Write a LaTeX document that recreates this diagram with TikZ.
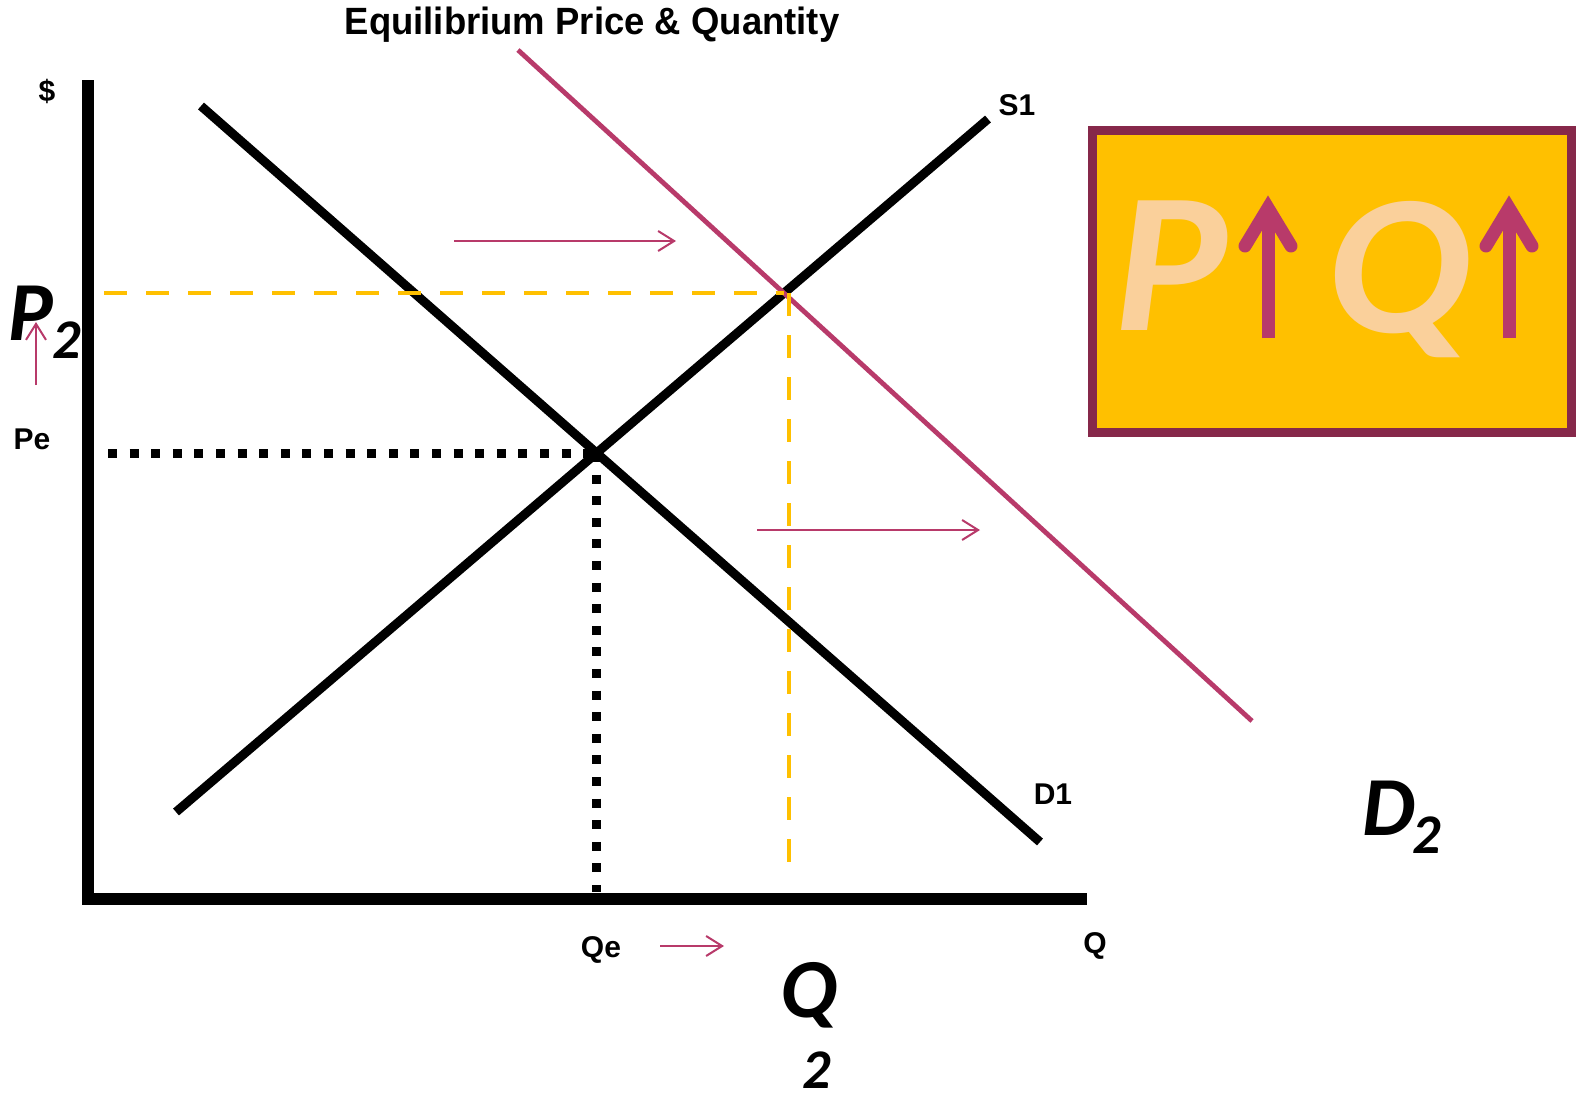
\documentclass[tikz,border=0pt]{standalone}
\usepackage{fontspec}
\setmainfont{Liberation Sans}
\newfontfamily\calib{Carlito}
\usetikzlibrary{arrows.meta,positioning}
\definecolor{shiftred}{RGB}{184,58,106}
\definecolor{guidegold}{RGB}{255,192,0}
\definecolor{boxrim}{RGB}{134,40,74}
\definecolor{peach}{RGB}{250,208,155}

\begin{document}
\begin{tikzpicture}[
      x=0.5pt, y=-0.5pt,
      curve/.style={line width=4.5pt, black},
      axisline/.style={line width=6pt, black},
      guide/.style={draw=guidegold, line width=2pt, dash pattern=on 11.5pt off 9.5pt},
      dotline/.style={draw=black, line width=4.5pt, dash pattern=on 4.5pt off 6.3pt},
      shiftarrow/.style={draw=shiftred, line width=1pt, -{Straight Barb[length=8pt,width=10pt]}},
      lab/.style={font=\bfseries\fontsize{15}{15}\selectfont},
      big/.style={font=\calib\bfseries\itshape\fontsize{42}{42}\selectfont, inner sep=0pt},
      bigsub/.style={font=\calib\bfseries\itshape\fontsize{28}{28}\selectfont, inner sep=0pt},
      boxletter/.style={font=\calib\bfseries\itshape\fontsize{100}{100}\selectfont, text=peach, inner sep=0pt, xscale=1.06},
      uparrow/.style={draw=shiftred, line width=6.5pt}
    ]
      \useasboundingbox[fill=white] (0,0) rectangle (1576,1098);

      % axes
      \coordinate (origin) at (88,899);
      \coordinate (ytop) at (88,80);
      \coordinate (xend) at (1087,899);
      \draw[axisline] (ytop) -- (origin) -- (xend);

      % curves
      \coordinate (d1a) at (201,106);
      \coordinate (d1b) at (1040,842);
      \coordinate (s1a) at (176,812);
      \coordinate (s1b) at (988,119);
      \coordinate (d2a) at (518,50);
      \coordinate (d2b) at (1252,721);
      \draw[curve] (d1a) -- (d1b);
      \draw[curve] (s1a) -- (s1b);
      \draw[draw=shiftred, line width=2.4pt] (d2a) -- (d2b);

      \coordinate (eq1) at (intersection of d1a--d1b and s1a--s1b);
      \coordinate (eq2) at (intersection of d2a--d2b and s1a--s1b);

      \draw[dotline] (eq1 -| 108,0) -- (eq1);
      \draw[dotline] (eq1) -- (eq1 |- 0,892);
      \draw[guide] (eq2 -| 104,0) -- (eq2);
      \draw[guide] ([xshift=2.5pt]eq2) -- ([xshift=2.5pt]eq2 |- 0,874);

      % shift arrows
      \coordinate (sh1a) at (454,241);
      \coordinate (sh1b) at (676,241);
      \coordinate (sh2a) at (757,530);
      \coordinate (sh2b) at (980,530);
      \coordinate (sh3a) at (660,946);
      \coordinate (sh3b) at (724,946);
      \coordinate (sh4a) at (36,385);
      \coordinate (sh4b) at (36,322);
      \draw[shiftarrow] (sh1a) -- (sh1b);
      \draw[shiftarrow] (sh2a) -- (sh2b);
      \draw[shiftarrow] (sh3a) -- (sh3b);
      \draw[shiftarrow] (sh4a) -- (sh4b);

      % labels
      \node[font=\bfseries\fontsize{19}{19}\selectfont, xscale=0.96] (title) at (592,25) {Equilibrium Price \& Quantity};
      \node[lab] (dollar) at (47,91) {\$};
      \node[lab] (pe) at (32,439) {Pe};
      \node[lab] (qe) at (601,950) {Qe};
      \node[lab] (qaxis) at (1095,946) {Q};
      \node[lab] (s1) at (1017,105) {S1};
      \node[lab] (d1) at (1053,794) {D1};

      \node[big, anchor=base west] (p2) at (8,340) {P};
      \node[bigsub, anchor=base west] (p2sub) at (52,358) {2};
      \node[big, anchor=base west] (d2) at (1362,835) {D};
      \node[bigsub, anchor=base west] (d2sub) at (1412,853) {2};
      \node[big, anchor=base west] (q2) at (780,1017) {Q};
      \node[bigsub, anchor=base west] (q2sub) at (802,1088) {2};

      % result box
      \draw[boxrim, fill=guidegold, line width=4.5pt] (1092,130) rectangle (1571,432);
      \node[boxletter, anchor=base west] (pbox) at (1114,330) {P};
      \node[boxletter, anchor=base west] (qbox) at (1326,332) {Q};
      \foreach \ax in {1268,1509} {
        \draw[uparrow] (\ax,338) -- (\ax,215);
        \draw[uparrow, line cap=round, miter limit=10] (\ax-23,246) -- (\ax,208) -- (\ax+23,246);
      }
    \end{tikzpicture}
\end{document}
